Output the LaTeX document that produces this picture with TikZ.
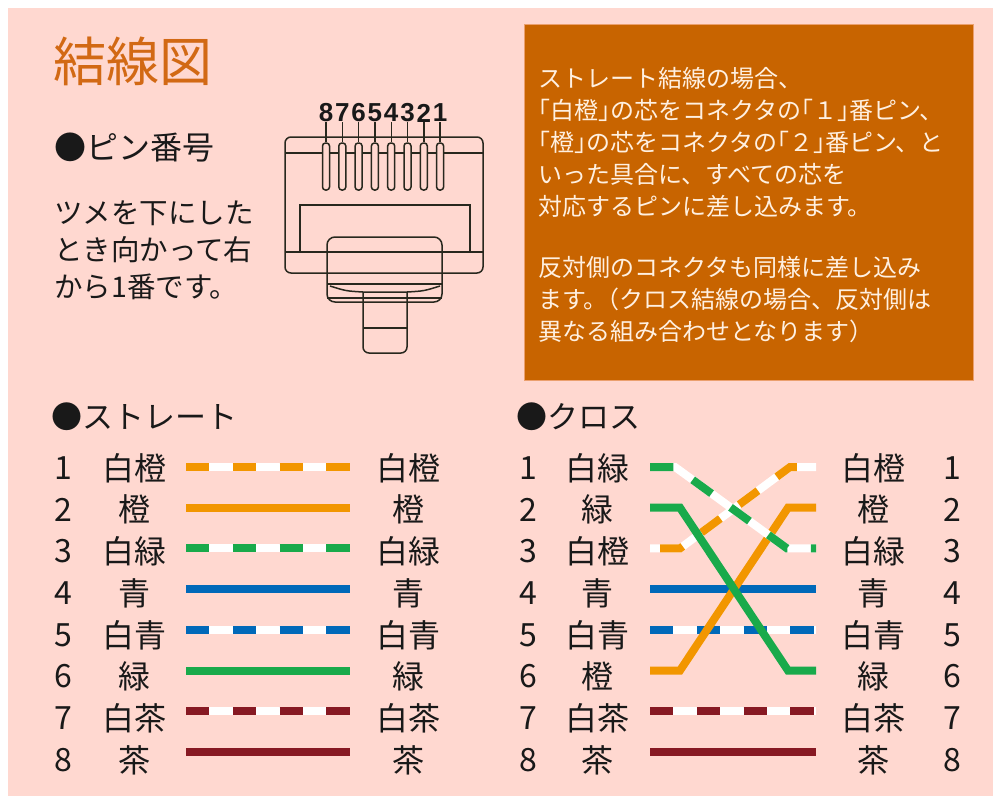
\documentclass[tikz,border=0pt]{standalone}
\usepackage{fontspec}
\setmainfont{Noto Sans CJK JP}
\newfontfamily\pinfont{Liberation Sans}
\newcommand\hb[1]{{\addfontfeatures{CharacterWidth=AlternateHalf}#1}}
\definecolor{bgpink}{RGB}{255,216,208}
\definecolor{boxorange}{RGB}{200,100,0}
\definecolor{boxedge}{RGB}{235,160,110}
\definecolor{notewhite}{RGB}{255,240,225}
\definecolor{titleorange}{RGB}{210,105,20}
\definecolor{inkgray}{RGB}{25,25,25}
\definecolor{plugline}{RGB}{40,40,30}
\definecolor{wireorange}{RGB}{242,150,0}
\definecolor{wiregreen}{RGB}{25,170,75}
\definecolor{wireblue}{RGB}{0,105,185}
\definecolor{wirebrown}{RGB}{135,25,35}
\begin{document}
\begin{tikzpicture}[x=1pt,y=-1pt,
		lbl/.style={text=inkgray,font=\fontsize{32}{32}\selectfont},
		head/.style={anchor=west,text=inkgray,font=\fontsize{31}{31}\selectfont},
		notetext/.style={anchor=west,align=left,text=notewhite,font=\fontsize{24}{32}\selectfont},
		pinnum/.style={text=inkgray,font=\pinfont\bfseries\fontsize{26}{26}\selectfont},
		slot/.style={draw=plugline,fill=bgpink,line width=1.5pt,rounded corners=3pt,minimum width=7pt,minimum height=47pt},
		plug/.style={draw=plugline,line width=1.5pt},
		base/.style={draw=white,line width=8pt},
		wire/.style={draw=#1,line width=8pt},
		stripe/.style={dash pattern=on 23.4pt off 23.4pt}]
		\tikzstyle{every node}+=[inner sep=0pt]
		\useasboundingbox (0,0) rectangle (993,796);
		\fill [white] (0,0) rectangle (993,796);
		\fill [bgpink] (8,8) rectangle (993,796);
		% heading and pin numbering
		\node [anchor=west,text=titleorange,font=\fontsize{53}{53}\selectfont] (title) at (53,61) {結線図};
		\node [anchor=west,text=inkgray,font=\fontsize{32}{32}\selectfont] (pinhead) at (54,148) {●ピン番号};
		\node [anchor=west,align=left,text=inkgray,font=\fontsize{28.5}{37}\selectfont] (pinnote) at (54,250) {ツメを下にした\\とき向かって右\\から1番です。};
		% plug
		\draw [plug,rounded corners=6pt] (285,137) rectangle (483,273);
		\draw [plug] (285,153) -- (483,153);
		\draw [plug] (285,252) -- (483,252);
		\draw [plug] (300,252) -- (300,205) -- (470,205) -- (470,252);
		\draw [plug,rounded corners=8pt] (327,237) rectangle (442,302);
		\draw [plug] (327,284) -- (442,284);
		\draw [plug] (327,298) -- (442,298);
		\draw [plug] (330,286) .. controls (346,291) .. (363,292) -- (407,292) .. controls (424,291) .. (440,286);
		\draw [plug,rounded corners=6pt] (363,292) -- (363,353) -- (407,353) -- (407,292);
		\draw [plug] (363,328) -- (407,328);
		\foreach \d [evaluate=\d as \px using 326+16.3*(8-\d)] in {8,7,6,5,4,3,2,1} {
			\node [pinnum] (pin\d) at (\px,113) {\d};
			\node [slot] (slot\d) at (\px,166.5) {};
			\draw [plug,line width=1.4pt] (pin\d.south) -- (slot\d.north);
		}
		% note box
		\filldraw [fill=boxorange,draw=boxedge,line width=1pt] (524,24) rectangle (973,380);
		\node [notetext] (notea) at (538,142) {ストレート結線の場合、\\\hb{「}白橙\hb{」}の芯をコネクタの\hb{「}１\hb{」}番ピン、\\\hb{「}橙\hb{」}の芯をコネクタの\hb{「}２\hb{」}番ピン、と\\いった具合に、すべての芯を\\対応するピンに差し込みます。};
		\node [notetext] (noteb) at (538,300) {反対側のコネクタも同様に差し込み\\ます。\hb{（}クロス結線の場合、反対側は\\異なる組み合わせとなります\hb{）}};
		% straight
		\node [head] (straight) at (51,417) {●ストレート};
		\foreach \i/\n/\c/\s [evaluate=\i as \ty using 468+41.7*(\i-1), evaluate=\i as \wy using 467+40.7*(\i-1)] in {1/白橙/wireorange/stripe,2/橙/wireorange/solid,3/白緑/wiregreen/stripe,4/青/wireblue/solid,5/白青/wireblue/stripe,6/緑/wiregreen/solid,7/白茶/wirebrown/stripe,8/茶/wirebrown/solid} {
			\node [lbl] (sn\i) at (63,\ty) {\i};
			\node [lbl] (sl\i) at (134,\ty) {\n};
			\node [lbl] (sr\i) at (408,\ty) {\n};
			\coordinate (sa\i) at (186,\wy);
			\coordinate (sb\i) at (350,\wy);
			\draw [base] (sa\i) -- (sb\i);
			\draw [wire=\c,\s] (sa\i) -- (sb\i);
		}
		% cross
		\node [head] (cross) at (516,417) {●クロス};
		\foreach \i/\n/\m [evaluate=\i as \ty using 468+41.7*(\i-1), evaluate=\i as \wy using 467+40.7*(\i-1)] in {1/白緑/白橙,2/緑/橙,3/白橙/白緑,4/青/青,5/白青/白青,6/橙/緑,7/白茶/白茶,8/茶/茶} {
			\node [lbl] (cn\i) at (528,\ty) {\i};
			\node [lbl] (cl\i) at (597,\ty) {\n};
			\node [lbl] (cr\i) at (873,\ty) {\m};
			\node [lbl] (cm\i) at (952,\ty) {\i};
			\coordinate (ca\i) at (650,\wy);
			\coordinate (cb\i) at (816,\wy);
		}
		\foreach \i/\c/\s in {4/wireblue/solid,5/wireblue/stripe,7/wirebrown/stripe,8/wirebrown/solid} {
			\draw [base] (ca\i) -- (cb\i);
			\draw [wire=\c,\s] (ca\i) -- (cb\i);
		}
		\draw [base,postaction={wire=wireorange,stripe,dash phase=36.8pt}] (ca3) -- ++(30,0) -- ([xshift=-26pt]cb1) -- (cb1);
		\draw [wire=wireorange] (ca6) -- ++(30,0) -- ([xshift=-28pt]cb2) -- (cb2);
		\draw [base,postaction={wire=wiregreen,stripe}] (ca1) -- ++(25,0) -- ([xshift=-29pt]cb3) -- (cb3);
		\draw [wire=wiregreen] (ca2) -- ++(30,0) -- ([xshift=-28pt]cb6) -- (cb6);
	\end{tikzpicture}
\end{document}
